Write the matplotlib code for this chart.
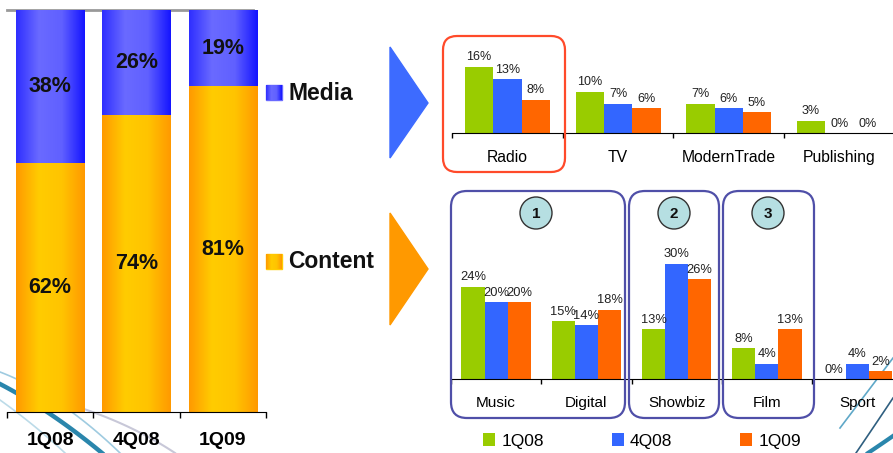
import numpy as np
import matplotlib.pyplot as plt
from matplotlib.patches import Rectangle, Polygon, FancyBboxPatch, Circle
from matplotlib.colors import LinearSegmentedColormap

plt.rcParams['font.family'] = ['Liberation Sans', 'DejaVu Sans']

# data
quarters = ['1Q08', '4Q08', '1Q09']
content_share = [62, 74, 81]
media_share = [38, 26, 19]

media_cats = ['Radio', 'TV', 'ModernTrade', 'Publishing']
media_1q08 = [16, 10, 7, 3]
media_4q08 = [13, 7, 6, 0]
media_1q09 = [8, 6, 5, 0]

content_cats = ['Music', 'Digital', 'Showbiz', 'Film', 'Sport']
content_1q08 = [24, 15, 13, 8, 0]
content_4q08 = [20, 14, 30, 4, 4]
content_1q09 = [20, 18, 26, 13, 2]

q_colors = ['#99cc00', '#3366ff', '#ff6600']
orange_grad = ['#ff9900', '#ffcc00', '#ffc400', '#ff9900']
blue_grad = ['#2e2eff', '#6a6aff', '#6060ff', '#1414ff']

W, H = 893, 453
fig = plt.figure(figsize=(W / 100, H / 100), dpi=100)


def px_axes(l, t, r, b):
    ax = fig.add_axes([l / W, 1 - b / H, (r - l) / W, (b - t) / H])
    ax.set_facecolor('none')
    return ax


def gradient(ax, patch, cols):
    x0, y0 = patch.get_x(), patch.get_y()
    w, h = patch.get_width(), patch.get_height()
    cmap = LinearSegmentedColormap.from_list('g', cols)
    im = ax.imshow(np.linspace(0, 1, 256).reshape(1, -1), cmap=cmap,
                   extent=[x0, x0 + w, y0, y0 + h], aspect='auto',
                   zorder=patch.get_zorder() + 0.1)
    im.set_clip_path(patch)


def bezier(ax, p0, p1, p2, **kw):
    t = np.linspace(0, 1, 60)[:, None]
    pts = (1 - t) ** 2 * np.array(p0) + 2 * (1 - t) * t * np.array(p1) + t ** 2 * np.array(p2)
    ax.plot(pts[:, 0], pts[:, 1], **kw)


# фон с "волнами"
bg = px_axes(0, 0, W, H)
bg.set_xlim(0, W)
bg.set_ylim(H, 0)
bg.axis('off')
bezier(bg, (0, 384), (50, 410), (102, 453), color='#2a86ac', lw=3.2)
bezier(bg, (0, 372), (60, 395), (120, 453), color='#9fcbe0', lw=1.2)
bezier(bg, (0, 400), (35, 425), (65, 453), color='#bcdbe8', lw=1.2)
bezier(bg, (20, 392), (110, 410), (175, 453), color='#c8c8d8', lw=1.5)
bezier(bg, (840, 428), (865, 395), (893, 358), color='#5fa8c8', lw=1.2)
bezier(bg, (856, 453), (875, 425), (893, 398), color='#2f5f80', lw=1.2)
bezier(bg, (868, 453), (880, 445), (893, 436), color='#2a86ac', lw=3)

# левый график: доли Content / Media
axL = px_axes(7, 10, 266, 412)
x = np.arange(len(quarters))
bc = axL.bar(x, content_share, 0.79, color='#ffb000', zorder=2)
bm = axL.bar(x, media_share, 0.79, bottom=content_share, color='#5050ff', zorder=2)
for b in bc:
    gradient(axL, b, orange_grad)
for b in bm:
    gradient(axL, b, blue_grad)
for i in range(len(quarters)):
    axL.text(x[i], content_share[i] / 2, f'{content_share[i]}%', ha='center', va='center',
             fontsize=15.5, fontweight='bold', color='#111111', zorder=5)
    axL.text(x[i], content_share[i] + media_share[i] / 2, f'{media_share[i]}%', ha='center',
             va='center', fontsize=15.5, fontweight='bold', color='#111111', zorder=5)
axL.set_xlim(-0.5, 2.5)
axL.set_ylim(0, 100)
axL.axhline(100, xmax=(253 - 7) / 259, color='#999999', lw=2, clip_on=False)
for s in ['left', 'right', 'top']:
    axL.spines[s].set_visible(False)
axL.set_yticks([])
axL.set_xticks(x)
axL.set_xticklabels(quarters, fontweight='bold')
axL.set_xticks([-0.5, 0.5, 1.5, 2.5], minor=True)
axL.tick_params(axis='x', which='major', length=0, pad=14.5, labelsize=14)
axL.tick_params(axis='x', which='minor', length=4.3, width=1)

# легенда Media / Content
ov0 = px_axes(0, 0, W, H)
ov0.set_xlim(0, W)
ov0.set_ylim(H, 0)
ov0.axis('off')
for (y0, label, cols) in [(85, 'Media', blue_grad), (254, 'Content', orange_grad)]:
    r = Rectangle((266, y0), 16, 15, color=cols[1], zorder=2)
    ov0.add_patch(r)
    gradient(ov0, r, cols)
    ov0.text(288, y0 + 8, label, ha='left', va='center', fontsize=16.5, fontweight='bold',
             color='#111111')
ov0.set_xlim(0, W)
ov0.set_ylim(H, 0)

off = [-0.256, 0, 0.256]
bw = 0.256

# верхний правый график: Media
axT = px_axes(452, 40, 893, 133)
xm = np.arange(len(media_cats))
for i, vals in enumerate([media_1q08, media_4q08, media_1q09]):
    bars = axT.bar(xm + off[i], vals, bw, color=q_colors[i], zorder=2)
    for b, v in zip(bars, vals):
        axT.annotate(f'{v}%', (b.get_x() + b.get_width() / 2, v), xytext=(0, 2.5),
                     textcoords='offset points', ha='center', va='bottom', fontsize=9,
                     color='#222222', annotation_clip=False)
axT.set_xlim(-0.5, -0.5 + 441 / 110.67)
axT.set_ylim(0, 93 / 4.15)
for s in ['left', 'right', 'top']:
    axT.spines[s].set_visible(False)
axT.set_yticks([])
axT.set_xticks(xm)
axT.set_xticklabels(media_cats)
axT.set_xticks([-0.5, 0.5, 1.5, 2.5], minor=True)
axT.tick_params(axis='x', which='major', length=0, pad=12.5, labelsize=11.3)
axT.tick_params(axis='x', which='minor', length=3.5, width=1)

# нижний правый график: Content
axB = px_axes(451, 260, 893, 379)
xc = np.arange(len(content_cats))
cont_bars = []
for i, vals in enumerate([content_1q08, content_4q08, content_1q09]):
    bars = axB.bar(xc + off[i], vals, bw, color=q_colors[i], zorder=2, label=quarters[i])
    cont_bars.append(bars)
    for b, v in zip(bars, vals):
        axB.annotate(f'{v}%', (b.get_x() + b.get_width() / 2, v), xytext=(0, 2.5),
                     textcoords='offset points', ha='center', va='bottom', fontsize=9.3,
                     color='#222222', annotation_clip=False)
axB.set_xlim(-0.5, -0.5 + 442 / 90.25)
axB.set_ylim(0, 119 / 3.84)
for s in ['left', 'right', 'top']:
    axB.spines[s].set_visible(False)
axB.set_yticks([])
axB.set_xticks(xc)
axB.set_xticklabels(content_cats)
axB.set_xticks([-0.5, 0.5, 1.5, 2.5, 3.5], minor=True)
axB.tick_params(axis='x', which='major', length=0, pad=12, labelsize=11)
axB.tick_params(axis='x', which='minor', length=3.5, width=1)

fig.legend(handles=cont_bars, labels=quarters, loc='center', bbox_to_anchor=(642 / W, 1 - 441 / H),
           ncol=3, frameon=False, fontsize=12.5, handlelength=0.7, handleheight=0.7,
           handletextpad=0.35, columnspacing=3.9)

# стрелки, рамки, номера
ov = px_axes(0, 0, W, H)
ov.set_xlim(0, W)
ov.set_ylim(H, 0)
ov.axis('off')
ov.add_patch(Polygon([(390, 47), (428, 103), (390, 158)], closed=True, color='#3d6bff'))
ov.add_patch(Polygon([(390, 213), (428, 269), (390, 325)], closed=True, color='#ff9900'))
ov.add_patch(FancyBboxPatch((443, 36), 122, 136, boxstyle='round,pad=0,rounding_size=14',
                            fc='none', ec='#ff4a2a', lw=1.6))
for (l, r, num, cx) in [(451, 625, '1', 536), (629, 719, '2', 674), (723, 814, '3', 768)]:
    ov.add_patch(FancyBboxPatch((l, 191), r - l, 227, boxstyle='round,pad=0,rounding_size=16',
                                fc='none', ec='#4f4fa8', lw=1.6))
    ov.add_patch(Circle((cx, 213), 16, fc='#b6dfe2', ec='#333333', lw=1))
    ov.text(cx, 214, num, ha='center', va='center', fontsize=11, fontweight='bold',
            color='#111111')

fig.savefig('out.png', dpi=100)
